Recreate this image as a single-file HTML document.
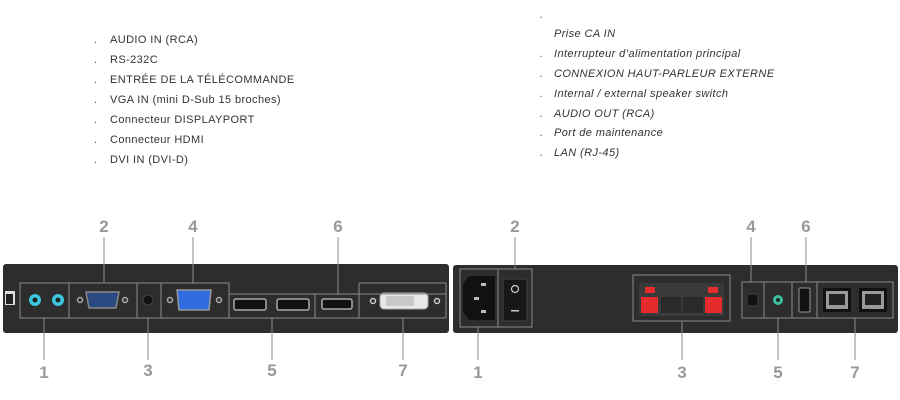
<!DOCTYPE html>
<html><head><meta charset="utf-8"><style>
body{margin:0;background:#fff;width:900px;height:400px;overflow:hidden}
svg{display:block}
</style></head><body>
<svg width="900" height="400" viewBox="0 0 900 400" xmlns="http://www.w3.org/2000/svg" font-family="Liberation Sans, sans-serif">
<g font-size="11" fill="#333" letter-spacing="0.4">
<g fill="#555"><text x="94" y="43">.</text><text x="94" y="63">.</text><text x="94" y="83">.</text><text x="94" y="103">.</text><text x="94" y="123">.</text><text x="94" y="143">.</text><text x="94" y="163">.</text></g>
<text x="110" y="43">AUDIO IN (RCA)</text>
<text x="110" y="63">RS-232C</text>
<text x="110" y="83">ENTRÉE DE LA TÉLÉCOMMANDE</text>
<text x="110" y="103">VGA IN (mini D-Sub 15 broches)</text>
<text x="110" y="123">Connecteur DISPLAYPORT</text>
<text x="110" y="143">Connecteur HDMI</text>
<text x="110" y="163">DVI IN (DVI-D)</text>
</g>
<g font-size="11" fill="#333" font-style="italic" letter-spacing="0.4">
<g fill="#555"><text x="540" y="18">.</text><text x="540" y="57">.</text><text x="540" y="77">.</text><text x="540" y="97">.</text><text x="540" y="117">.</text><text x="540" y="136">.</text><text x="540" y="156">.</text></g>
<text x="554" y="37">Prise CA IN</text>
<text x="554" y="57">Interrupteur d’alimentation principal</text>
<text x="554" y="77">CONNEXION HAUT-PARLEUR EXTERNE</text>
<text x="554" y="97">Internal / external speaker switch</text>
<text x="554" y="117">AUDIO OUT (RCA)</text>
<text x="554" y="136">Port de maintenance</text>
<text x="554" y="156">LAN (RJ-45)</text>
</g>
<rect x="3" y="264" width="446" height="69" rx="3" fill="#2e2d2d"/>
<rect x="453" y="265" width="445" height="68" rx="3" fill="#2e2d2d"/>
<rect x="5" y="291" width="10" height="14" fill="#ddd"/><rect x="6" y="294" width="7" height="10" fill="#222"/>
<circle cx="35" cy="300" r="6" fill="#3cc7e0"/><circle cx="35" cy="300" r="2.5" fill="#222"/>
<circle cx="58" cy="300" r="6" fill="#3cc7e0"/><circle cx="58" cy="300" r="2.5" fill="#222"/>
<circle cx="80" cy="300" r="2.5" fill="none" stroke="#aaa" stroke-width="1.5"/><circle cx="125" cy="300" r="2.5" fill="none" stroke="#aaa" stroke-width="1.5"/>
<path d="M86 292h33l-3 16h-27z" fill="#2c4a82" stroke="#888" stroke-width="1.5"/>
<circle cx="148" cy="300" r="5" fill="#111" stroke="#444"/>
<circle cx="170" cy="300" r="2.5" fill="none" stroke="#aaa" stroke-width="1.5"/><circle cx="219" cy="300" r="2.5" fill="none" stroke="#aaa" stroke-width="1.5"/>
<path d="M177 290h34l-2 20h-30z" fill="#2f6de0" stroke="#999" stroke-width="1.5"/>
<rect x="234" y="299" width="32" height="11" rx="2" fill="#111" stroke="#aaa" stroke-width="1.5"/>
<rect x="277" y="299" width="32" height="11" rx="2" fill="#111" stroke="#aaa" stroke-width="1.5"/>
<rect x="322" y="299" width="30" height="10" rx="2" fill="#111" stroke="#aaa" stroke-width="1.5"/>
<circle cx="373" cy="301" r="2.5" fill="none" stroke="#ccc" stroke-width="1.5"/><circle cx="437" cy="301" r="2.5" fill="none" stroke="#ccc" stroke-width="1.5"/>
<rect x="380" y="293" width="48" height="16" rx="4" fill="#e8e8e8" stroke="#aaa"/>
<rect x="386" y="296" width="28" height="10" fill="#c9c9c9"/>
<g fill="none" stroke="#8a8a8a" stroke-width="1">
<path d="M20 283H229V318H20Z M69 283V318 M137 283V318 M161 283V318 M229 294H446 M229 318H446 M359 283H446V318 M359 283V318 M315 294V318"/>
<path d="M104 283V237 M193 283V237 M338 294V237 M44 318V360 M148 318V360 M272 318V360 M403 318V360"/>
</g>
<path d="M469 276h26v44h-26l-6-8v-28z" fill="#111"/>
<rect x="481" y="283" width="5" height="3" fill="#bbb"/><rect x="474" y="297" width="5" height="3" fill="#bbb"/><rect x="481" y="310" width="5" height="3" fill="#bbb"/>
<rect x="503" y="279" width="24" height="42" fill="#181818" stroke="#444"/>
<circle cx="515" cy="289" r="3.5" fill="none" stroke="#ccc" stroke-width="1.2"/><rect x="511" y="310" width="8" height="1.5" fill="#ccc"/>
<rect x="639" y="283" width="85" height="33" fill="#3a3a3a"/>
<rect x="645" y="287" width="10" height="6" fill="#e52b2b"/><rect x="708" y="287" width="10" height="6" fill="#e52b2b"/>
<rect x="641" y="297" width="17" height="16" fill="#e52b2b"/><rect x="705" y="297" width="17" height="16" fill="#e52b2b"/>
<rect x="661" y="297" width="20" height="16" fill="#2a2a2a"/><rect x="683" y="297" width="20" height="16" fill="#2a2a2a"/>
<rect x="747" y="294" width="11" height="12" rx="1" fill="#111" stroke="#444"/>
<circle cx="778" cy="300" r="5" fill="#3cc2a0"/><circle cx="778" cy="300" r="2" fill="#222"/>
<rect x="799" y="288" width="11" height="24" rx="1" fill="#111" stroke="#999"/>
<rect x="823" y="288" width="28" height="24" fill="#111"/><rect x="826" y="291" width="22" height="18" fill="#999"/><rect x="829" y="294" width="16" height="11" fill="#222"/>
<rect x="859" y="288" width="28" height="24" fill="#111"/><rect x="862" y="291" width="22" height="18" fill="#999"/><rect x="865" y="294" width="16" height="11" fill="#222"/>
<g fill="none" stroke="#8a8a8a" stroke-width="1">
<path d="M460 269H532V327H460Z M498 269V327 M633 275H730V321H633Z M742 282H893V318H742Z M764 282V318 M792 282V318 M817 282V318"/>
<path d="M515 269V237 M751 282V237 M806 282V237 M478 327V360 M682 321V360 M778 318V360 M855 318V360"/>
</g>
<g font-size="17" font-weight="bold" fill="#999" text-anchor="middle">
<text x="44" y="378">1</text><text x="104" y="232">2</text><text x="148" y="376">3</text><text x="193" y="232">4</text><text x="272" y="376">5</text><text x="338" y="232">6</text><text x="403" y="376">7</text>
<text x="478" y="378">1</text><text x="515" y="232">2</text><text x="682" y="378">3</text><text x="751" y="232">4</text><text x="778" y="378">5</text><text x="806" y="232">6</text><text x="855" y="378">7</text>
</g>
</svg>
</body></html>
